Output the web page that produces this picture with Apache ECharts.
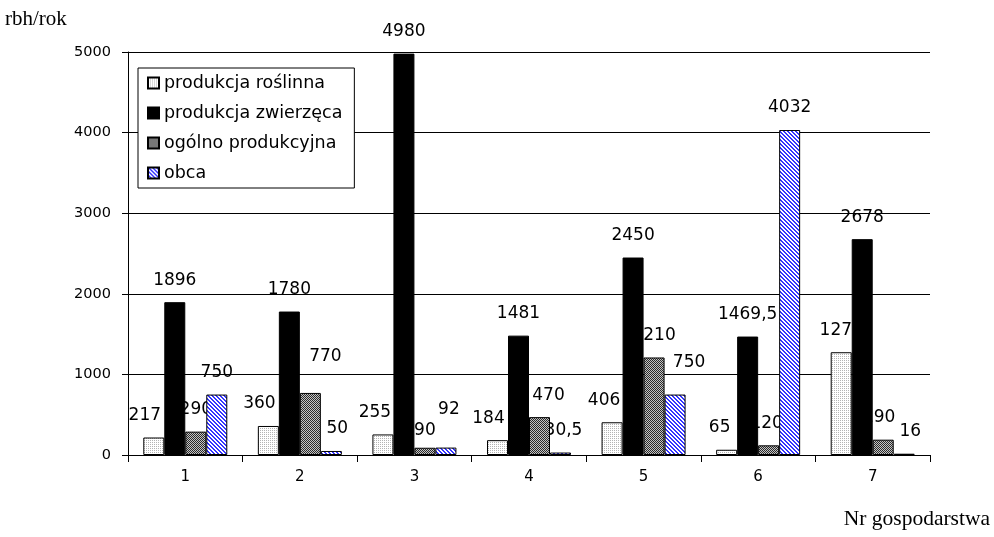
<!DOCTYPE html>
<html>
<head>
<meta charset="utf-8">
<script src="https://cdn.jsdelivr.net/npm/echarts@6/dist/echarts.min.js"></script>
<style>
  html, body { margin: 0; padding: 0; background: #fff; }
  #chart { width: 994px; height: 537px; }
</style>
</head>
<body>
<div id="chart"></div>
<script>
// Farm numbers on the category axis
const farms = ['1', '2', '3', '4', '5', '6', '7'];
const seriesNames = ['produkcja roślinna', 'produkcja zwierzęca', 'ogólno produkcyjna', 'obca'];

// Labour input (rbh/rok) per farm
const roslinna  = [217, 360, 255, 184, 406, 65, 1275];
const zwierzeca = [1896, 1780, 4980, 1481, 2450, 1469.5, 2678];
const ogolna    = [290, 770, 90, 470, 1210, 120, 190];
const obca      = [750, 50, 92, 30.5, 750, 4032, 16];

const yMin = 0, yMax = 5000, yStep = 1000;

// Hand-placed value labels: [series index, farm index] -> [dx, dy]
const labelNudge = {
  '0,0': [-9, 0], '0,1': [-9, 0], '0,2': [-8, 0], '0,3': [-9, 0], '0,4': [-8, 0], '0,5': [-7, 0],
  '2,1': [15, -14], '2,2': [0, 5], '2,3': [9, 0], '2,5': [-2, 0], '2,6': [-4, 0],
  '3,1': [6, 0], '3,2': [3, -16], '3,3': [3, 0], '3,4': [14, -10], '3,6': [6, 0]
};

// Small tiled fills for the bars
function pattern(size, draw) {
  const c = document.createElement('canvas');
  c.width = c.height = size;
  const g = c.getContext('2d');
  draw(g, size);
  return { image: c, repeat: 'repeat' };
}
const dotFill = pattern(2, g => {
  g.fillStyle = '#ffffff'; g.fillRect(0, 0, 2, 2);
  g.fillStyle = '#b4b4b4'; g.fillRect(0, 0, 1, 1);
});
const checkFill = pattern(2, g => {
  g.fillStyle = '#c4c4c4'; g.fillRect(0, 0, 2, 2);
  g.fillStyle = '#2a2a2a'; g.fillRect(0, 0, 1, 1); g.fillRect(1, 1, 1, 1);
});
const hatchFill = pattern(4, g => {
  g.fillStyle = '#ffffff'; g.fillRect(0, 0, 4, 4);
  g.fillStyle = '#3434ff';
  for (let i = 0; i < 4; i++) { g.fillRect(i, i, 1, 1); g.fillRect((i + 1) % 4, i, 1, 1); }
});

const values = [roslinna, zwierzeca, ogolna, obca];
const fills = [dotFill, '#000000', checkFill, hatchFill];
const SANS = '"DejaVu Sans", sans-serif';
const SERIF = '"Liberation Serif", "Times New Roman", serif';

const fmt = p => String(p.value).replace('.', ',');

const series = [];
// Value labels sit underneath the bars (drawn on a twin axis with a lower z)
values.forEach((arr, s) => {
  series.push({
    name: 'etykiety ' + (s + 1),
    type: 'bar',
    xAxisIndex: 1,
    z: 1,
    barWidth: 21,
    barGap: '0%',
    silent: true,
    data: arr.map((v, k) => {
      const nudge = labelNudge[s + ',' + k];
      return nudge ? { value: v, label: { offset: nudge } } : v;
    }),
    itemStyle: { color: 'rgba(0,0,0,0)', borderWidth: 0 },
    label: {
      show: true,
      position: 'top',
      distance: 12,
      formatter: fmt,
      color: '#000',
      fontFamily: SANS,
      fontSize: 17,
      lineHeight: 20
    }
  });
});
// Visible bars
values.forEach((arr, s) => {
  series.push({
    name: seriesNames[s],
    type: 'bar',
    xAxisIndex: 0,
    z: 3,
    barWidth: 21,
    barGap: '0%',
    data: arr,
    itemStyle: { color: fills[s], borderColor: '#000', borderWidth: 1 }
  });
});

const chart = echarts.init(document.getElementById('chart'), null, { renderer: 'canvas' });
chart.setOption({
  animation: false,
  backgroundColor: '#fff',
  grid: { left: 128, right: 64, top: 52, bottom: 82 },
  legend: {
    data: seriesNames,
    orient: 'vertical',
    left: 138,
    top: 68,
    padding: [5, 12, 5, 9],
    itemGap: 10,
    itemWidth: 11,
    itemHeight: 11,
    icon: 'rect',
    borderColor: '#000',
    borderWidth: 1,
    borderRadius: 0,
    backgroundColor: '#fff',
    textStyle: { color: '#000', fontFamily: SANS, fontSize: 17.5, lineHeight: 20 }
  },
  xAxis: [
    {
      type: 'category',
      data: farms,
      axisLine: { show: true, lineStyle: { color: '#000', width: 1 } },
      axisTick: { show: true, alignWithLabel: false, length: 7, lineStyle: { color: '#000' } },
      axisLabel: { color: '#000', fontFamily: SANS, fontSize: 15, margin: 15 },
      splitLine: { show: false }
    },
    {
      type: 'category',
      data: farms,
      show: false
    }
  ],
  yAxis: {
    type: 'value',
    min: yMin,
    max: yMax,
    interval: yStep,
    axisLine: { show: true, lineStyle: { color: '#000', width: 1 } },
    axisTick: { show: true, length: 6, lineStyle: { color: '#000' } },
    axisLabel: { color: '#000', fontFamily: SANS, fontSize: 14.5, margin: 17, formatter: v => String(v) },
    splitLine: { show: true, lineStyle: { color: '#000', width: 1 } }
  },
  graphic: [
    { type: 'text', left: 5, top: 9, style: { text: 'rbh/rok', font: '21px ' + SERIF, fill: '#000' } },
    { type: 'text', right: 4, top: 508, style: { text: 'Nr gospodarstwa', font: '21.5px ' + SERIF, fill: '#000' } }
  ],
  series: series
});
</script>
</body>
</html>
